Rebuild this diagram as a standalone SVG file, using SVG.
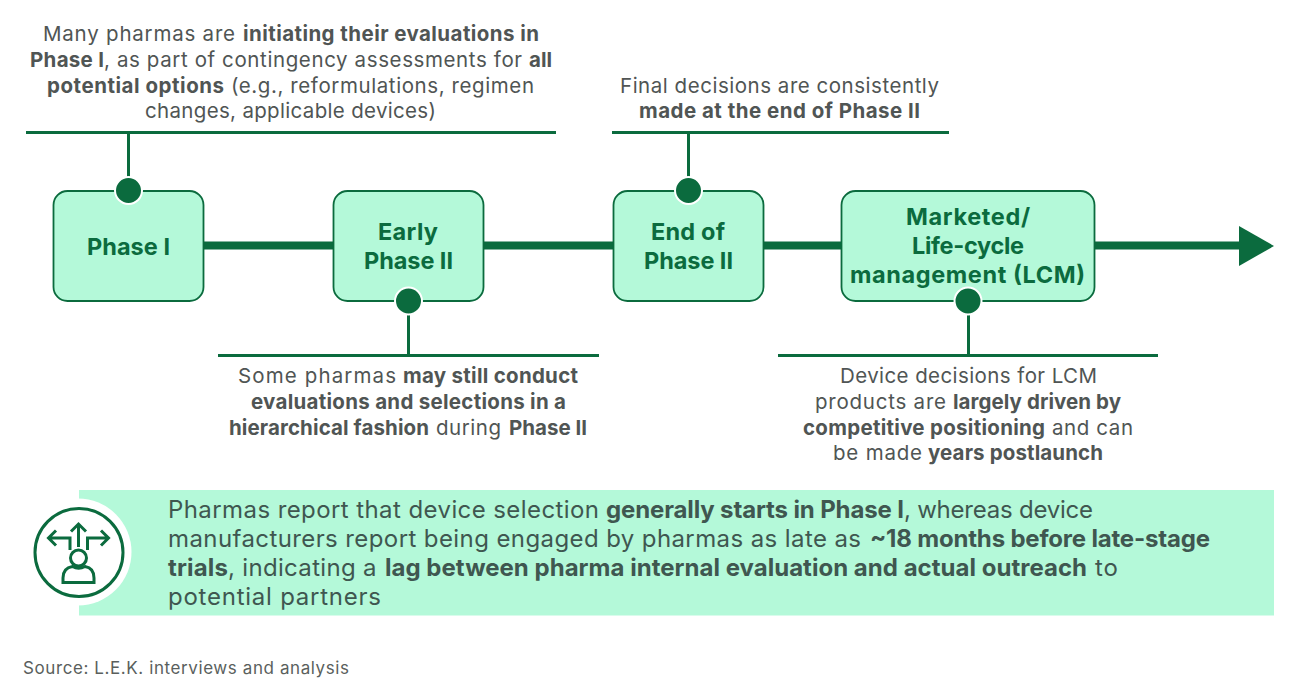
<svg xmlns="http://www.w3.org/2000/svg" width="1300" height="690" viewBox="0 0 1300 690">
<style>
text{font-family:"Inter","Liberation Sans",sans-serif;fill:#505554}
.c{font-size:20.500px}
.b{font-size:24px}
.b text{fill:#3f5750}
.s{font-size:17px;fill:#5a5f5d}
.w{font-weight:700}
.n{font-size:23.500px;font-weight:700;fill:#0b6b3e}
.box{fill:#b4f9d9;stroke:#0b6b3e;stroke-width:1.800}
.dot{fill:#0b6b3e;stroke:#fff;stroke-width:2}
.ln{stroke:#0b6b3e;stroke-width:3;fill:none}
.ic{stroke:#0b6b3e;stroke-width:3;fill:none}
</style>
<rect width="1300" height="690" fill="#fff"/>
<g id="connectors">
<path d="M204 245.500H1240" stroke="#0b6b3e" stroke-width="8" fill="none"/>
<polygon points="1239,226 1274,246 1239,266" fill="#0b6b3e"/>
<path class="ln" d="M26 132.500H556M128.500 132V178M612 132.500H949M688.500 132V178M218 355.500H599M408.500 355V314M778 355.500H1158M968.500 355V314"/>
</g>
<g id="phase1"><rect class="box" x="53.500" y="191" width="150" height="110" rx="14"/><circle class="dot" cx="128.500" cy="190.500" r="13.500"/><text class="n" x="87" y="255" textLength="83">Phase I</text></g>
<g id="early2"><rect class="box" x="333.500" y="191" width="150" height="110" rx="14"/><circle class="dot" cx="408.500" cy="301" r="13.500"/><text class="n" x="378" y="240" textLength="60">Early</text><text class="n" x="364" y="269" textLength="89">Phase II</text></g>
<g id="end2"><rect class="box" x="613.500" y="191" width="150" height="110" rx="14"/><circle class="dot" cx="688.500" cy="190.500" r="13.500"/><text class="n" x="651" y="240" textLength="74">End of</text><text class="n" x="644" y="269" textLength="89">Phase II</text></g>
<g id="lcm"><rect class="box" x="841.500" y="191" width="253" height="110" rx="14"/><circle class="dot" cx="968" cy="301" r="13.500"/><text class="n" x="906" y="225" textLength="124">Marketed/</text><text class="n" x="912" y="254" textLength="112">Life-cycle</text><text class="n" x="850" y="283" textLength="235">management (LCM)</text></g>
<g id="note1" class="c">
<text x="43" y="41" textLength="192">Many pharmas are</text>
<text class="w" x="243" y="41" textLength="296">initiating their evaluations in</text>
<text class="w" x="30" y="67" textLength="74">Phase I</text>
<text x="104" y="67" textLength="418">, as part of contingency assessments for</text>
<text class="w" x="529" y="67" textLength="23">all</text>
<text class="w" x="47" y="93" textLength="177">potential options</text>
<text x="231" y="93" textLength="303">(e.g., reformulations, regimen</text>
<text x="145" y="118" textLength="291">changes, applicable devices)</text>
</g>
<g id="note2" class="c">
<text x="620" y="93" textLength="319">Final decisions are consistently</text>
<text x="639" y="118" textLength="281" class="w">made at the end of Phase II</text>
</g>
<g id="note3" class="c">
<text x="238" y="383" textLength="158">Some pharmas</text>
<text class="w" x="403" y="383" textLength="175">may still conduct</text>
<text x="251" y="409" textLength="315" class="w">evaluations and selections in a</text>
<text class="w" x="229" y="435" textLength="200">hierarchical fashion</text>
<text x="436" y="435" textLength="65">during</text>
<text class="w" x="509" y="435" textLength="78">Phase II</text>
</g>
<g id="note4" class="c">
<text x="840" y="383" textLength="257">Device decisions for LCM</text>
<text x="815" y="409" textLength="131">products are</text>
<text class="w" x="953" y="409" textLength="168">largely driven by</text>
<text class="w" x="803" y="435" textLength="242">competitive positioning</text>
<text x="1052" y="435" textLength="81">and can</text>
<text x="833" y="460" textLength="89">be made</text>
<text class="w" x="928" y="460" textLength="175">years postlaunch</text>
</g>
<g id="banner">
<rect x="79" y="490" width="1195" height="125.500" fill="#b4f9d9"/>
<circle cx="78" cy="552" r="53.500" fill="#fff"/>
<g id="icon">
<circle class="ic" cx="79" cy="552.500" r="44"/>
<circle class="ic" cx="78.500" cy="558" r="8"/>
<path class="ic" d="M63 582.500V578Q63 568 72.500 566.500Q78.500 570 85 566.500Q94 568 94 578V582.500Z"/>
<path class="ic" d="M78.500 547V524M71 531.500L78.500 524L86 531.500M70 550V538H49M56 530.500L48.500 538L56 545.500M87.500 550V538H108M101 530.500L108.500 538L101 545.500"/>
</g>
<g class="b">
<text x="168" y="518" textLength="431">Pharmas report that device selection</text>
<text class="w" x="606" y="518" textLength="298">generally starts in Phase I</text>
<text x="904" y="518" textLength="189">, whereas device</text>
<text x="168" y="547" textLength="693">manufacturers report being engaged by pharmas as late as</text>
<text class="w" x="870" y="547" textLength="340">~18 months before late-stage</text>
<text class="w" x="168" y="576" textLength="60">trials</text>
<text x="228" y="576" textLength="148.500">, indicating a</text>
<text class="w" x="385" y="576" textLength="702">lag between pharma internal evaluation and actual outreach</text>
<text x="1095" y="576" textLength="23">to</text>
<text x="168" y="605" textLength="213">potential partners</text>
</g>
</g>
<text id="source" class="s" x="23" y="674" textLength="326">Source: L.E.K. interviews and analysis</text>
</svg>
